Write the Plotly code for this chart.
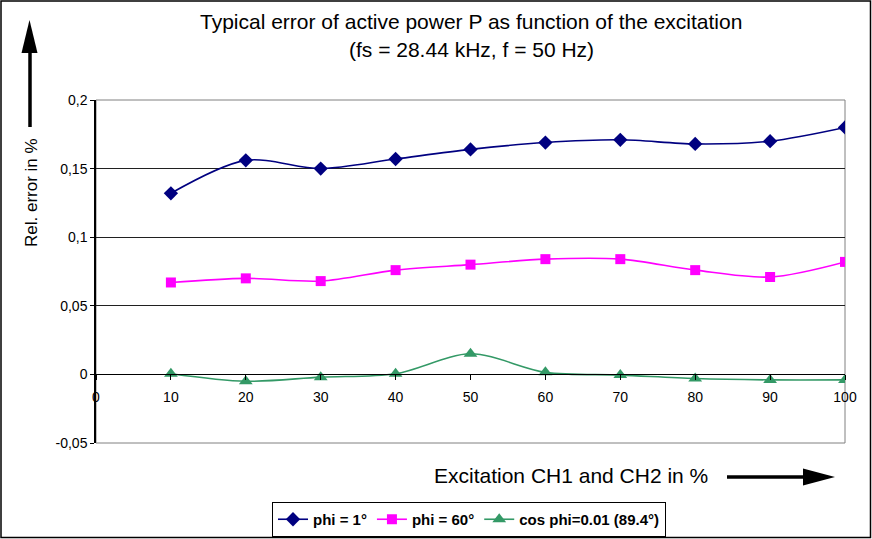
import plotly.graph_objects as go

# Excitation levels (% of full scale) on CH1 and CH2
excitation = [10, 20, 30, 40, 50, 60, 70, 80, 90, 100]

# Relative error of active power P in %
err_phi_1 = [0.132, 0.156, 0.150, 0.157, 0.164, 0.169, 0.171, 0.168, 0.170, 0.180]
err_phi_60 = [0.067, 0.070, 0.068, 0.076, 0.080, 0.084, 0.084, 0.076, 0.071, 0.082]
err_cos_001 = [0.0005, -0.005, -0.002, 0.0005, 0.015, 0.0015, -0.0005, -0.003, -0.004, -0.004]

series_names = ["phi = 1°", "phi = 60°", "cos phi=0.01 (89.4°)"]

x_tick_vals = [0, 10, 20, 30, 40, 50, 60, 70, 80, 90, 100]
y_tick_vals = [-0.05, 0, 0.05, 0.1, 0.15, 0.2]
y_tick_text = ["-0,05", "0", "0,05", "0,1", "0,15", "0,2"]

W, H = 872, 539
ML, MR, MT, MB = 96, 27, 100, 96
PW, PH = W - ML - MR, H - MT - MB
FONT = "Liberation Sans, Arial, sans-serif"


def px(x):
    return (x - ML) / PW


def py(y):
    return (H - MB - y) / PH


fig = go.Figure()

styles = [
    dict(color="#000080", symbol="diamond", size=11),
    dict(color="#FF00FF", symbol="square", size=10),
    dict(color="#339966", symbol="triangle-up", size=12),
]
for name, vals, st in zip(series_names, [err_phi_1, err_phi_60, err_cos_001], styles):
    fig.add_trace(go.Scatter(
        x=excitation, y=vals, name=name, mode="lines+markers",
        line=dict(color=st["color"], width=1.6, shape="spline", smoothing=0.9),
        marker=dict(color=st["color"], symbol=st["symbol"], size=st["size"],
                    line=dict(width=0)),
    ))

shapes = [
    # plot frame
    dict(type="rect", xref="paper", yref="paper", x0=0, x1=1, y0=0, y1=1,
         line=dict(color="#808080", width=1), layer="below"),
    # outer chart border
    dict(type="rect", xref="paper", yref="paper", x0=px(1), x1=px(870.5), y0=py(1), y1=py(537.5),
         line=dict(color="#000000", width=1.5)),
    # vertical arrow beside the y title
    dict(type="line", xref="paper", yref="paper", x0=px(30), x1=px(30), y0=py(127), y1=py(50),
         line=dict(color="#000000", width=3.5)),
    dict(type="path", xref="paper", yref="paper",
         path=f"M {px(21.5)} {py(53)} L {px(37.5)} {py(53)} L {px(29.5)} {py(20)} Z",
         fillcolor="#000000", line=dict(color="#000000", width=0)),
    # horizontal arrow after the x title
    dict(type="line", xref="paper", yref="paper", x0=px(727), x1=px(806), y0=py(477), y1=py(477),
         line=dict(color="#000000", width=3.5)),
    dict(type="path", xref="paper", yref="paper",
         path=f"M {px(803)} {py(468.5)} L {px(803)} {py(485.5)} L {px(835)} {py(477)} Z",
         fillcolor="#000000", line=dict(color="#000000", width=0)),
]

annotations = [
    dict(text="Typical error of active power P as function of the excitation",
         xref="paper", yref="paper", x=px(471), y=py(21), xanchor="center", yanchor="middle",
         showarrow=False, font=dict(family=FONT, size=21, color="#000000")),
    dict(text="(fs = 28.44 kHz, f = 50 Hz)",
         xref="paper", yref="paper", x=px(471), y=py(49), xanchor="center", yanchor="middle",
         showarrow=False, font=dict(family=FONT, size=21, color="#000000")),
    dict(text="Excitation CH1 and CH2 in %",
         xref="paper", yref="paper", x=px(432), y=py(476), xanchor="left", yanchor="middle",
         showarrow=False, font=dict(family=FONT, size=21, color="#000000")),
    dict(text="Rel. error in %", textangle=-90,
         xref="paper", yref="paper", x=px(31), y=py(193), xanchor="center", yanchor="middle",
         showarrow=False, font=dict(family=FONT, size=17, color="#000000")),
]

fig.update_layout(
    width=W, height=H,
    margin=dict(l=ML, r=MR, t=MT, b=MB, autoexpand=False),
    paper_bgcolor="#FFFFFF", plot_bgcolor="#FFFFFF",
    font=dict(family=FONT, size=14, color="#000000"),
    showlegend=True,
    legend=dict(
        orientation="h", x=px(469), y=py(502), xanchor="center", yanchor="top",
        bordercolor="#000000", borderwidth=1, bgcolor="#FFFFFF",
        font=dict(family=FONT, size=15, color="#000000", weight="bold"),
        itemwidth=30, tracegroupgap=0,
    ),
    shapes=shapes,
    annotations=annotations,
    xaxis=dict(
        range=[0, 100], tickvals=x_tick_vals, ticktext=[str(v) for v in x_tick_vals],
        anchor="free", position=py(374.3), showgrid=False, zeroline=False,
        showline=True, linecolor="#000000", linewidth=1,
        ticks="outside", ticklen=5, tickcolor="#000000", ticklabelstandoff=5,
        tickfont=dict(family=FONT, size=14, color="#000000"),
    ),
    yaxis=dict(
        range=[-0.05, 0.2], tickvals=y_tick_vals, ticktext=y_tick_text,
        showgrid=True, gridcolor="#202020", gridwidth=1, zeroline=False,
        showline=True, linecolor="#000000", linewidth=1.5,
        ticks="outside", ticklen=4, tickcolor="#000000",
        tickfont=dict(family=FONT, size=14, color="#000000"),
    ),
)

fig.write_html("out.html")
